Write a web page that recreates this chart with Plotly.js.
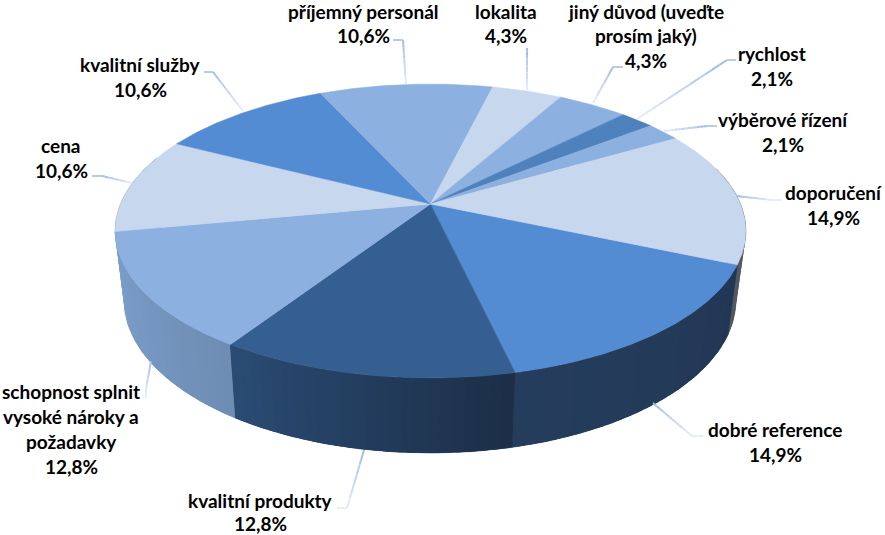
<!DOCTYPE html>
<html><head><meta charset="utf-8">
<script src="https://cdn.plot.ly/plotly-3.0.1.min.js"></script>
<style>html,body{margin:0;padding:0;background:#fff}#c{width:885px;height:535px}</style>
</head><body><div id="c"></div>
<script>
// ---- data (clockwise from the start angle)
const categories = ['dobré reference','kvalitní produkty','schopnost splnit|vysoké nároky a|požadavky','cena','kvalitní služby','příjemný personál','lokalita','jiný důvod (uveďte|prosím jaký)','rychlost','výběrové řízení','doporučení'];
const values = [14.9,12.8,12.8,10.6,10.6,10.6,4.3,4.3,2.1,2.1,14.9];
const topColors = ['#538CD3','#365F91','#8CB0E0','#C6D7EE','#538CD3','#8CB0E0','#C6D7EE','#8CB0E0','#4F81BD','#8CB0E0','#C6D7EE'];
const wallStart = ['#223754','#1C2E46','#6E8DB4','#8099BC','#2C4F78','#5F7FAA','#8099BC','#5F7FAA','#33547F','#5F7FAA','#55585F'];
const wallEnd   = ['#253D5D','#2A4C75','#7CA0CD','#8AA3C6','#2C4F78','#5F7FAA','#8099BC','#5F7FAA','#33547F','#5F7FAA','#55585F'];
// label anchor: centre x, first line centre y, line step
const labelX = [775,260,71,61,140,363,506,646,772,783,833];
const labelY = [429,500.5,391,145,64,11,11,11,53,119,192];
const lineSteps = [25.2,23,25.2,25.2,25.2,24,24,24.5,25.2,25.2,25.2];
// leader polylines [x...],[y...]
const leaderX = [[703,692,653],[337,347,364],[146,146,151],[92,102,132],[204,213,243],[393,403,406],[527,527],[623,613,593],[736,727,637],[717,707,664],[782,772,736]];
const leaderY = [[436,436,403],[508,508,450],[398,389,361],[176,176,183],[72,72,111],[40,40,84],[48,90],[67,67,103],[60,60,119],[126,126,131],[200,200,196]];
const leaderTop = [160,186,232], leaderBottom = [232,238,248];
// pie geometry
const startDeg = 23.4, persp = 0.1837;
const apex = {x:430.5,y:204,a:310,b:142};
const rim = {x:430.5,y:231,rx:315,ry:147};
const base = {x:430,y:300,rx:306,ry:153};
const visibleFrom = -15, visibleTo = 200, stripDeg = 2;

const rad = d => d*Math.PI/180;
function topPt(t){const u=Math.cos(rad(t)),v=Math.sin(rad(t)),w=1-persp*v;return [apex.x+apex.a*u/w,apex.y+apex.b*v/w];}
function basePt(t){const p=topPt(t);const a=Math.atan2((p[1]-rim.y)/rim.ry,(p[0]-rim.x)/rim.rx);return [base.x+base.rx*Math.cos(a),base.y+base.ry*Math.sin(a)];}
const hex = c => [1,3,5].map(i=>parseInt(c.substr(i,2),16));
function mix(a,b,f){const A=hex(a),B=hex(b);return 'rgb('+A.map((v,i)=>Math.round(v+(B[i]-v)*f)).join(',')+')';}
const total = values.reduce((s,v)=>s+v,0);
const spans=[];let acc=startDeg;
values.forEach(v=>{const d=v/total*360;spans.push([acc,acc+d]);acc+=d;});

const traces=[];
function poly(xs,ys,col,lw){traces.push({type:'scatter',mode:'lines',x:xs,y:ys,fill:'toself',fillcolor:col,line:{color:col,width:lw},hoverinfo:'skip',showlegend:false});}
function wallPoly(t0,t1,col,lw){
  const m=Math.max(2,Math.ceil((t1-t0)/1)),xs=[],ys=[];
  for(let j=0;j<=m;j++){const p=topPt(t0+(t1-t0)*j/m);xs.push(p[0]);ys.push(p[1]);}
  for(let j=m;j>=0;j--){const p=basePt(t0+(t1-t0)*j/m);xs.push(p[0]);ys.push(p[1]);}
  xs.push(xs[0]);ys.push(ys[0]);
  poly(xs,ys,col,lw);
}
// walls: painted back-to-front (sides first, front centre last)
const groups=[];
spans.forEach((s,i)=>{
  [[s[0],s[1]],[s[0]-360,s[1]-360]].forEach(r=>{
    const a=Math.max(r[0],visibleFrom),b=Math.min(r[1],visibleTo);
    if(b>a)groups.push({i,r,a,b});
  });
});
groups.sort((p,q)=>Math.abs((q.a+q.b)/2-90)-Math.abs((p.a+p.b)/2-90));
groups.forEach(g=>{
  wallPoly(g.a,g.b,mix(wallStart[g.i],wallEnd[g.i],.5),0.5);
  const n=Math.max(1,Math.ceil((g.b-g.a)/stripDeg));
  for(let k=0;k<n;k++){
    // each strip overlaps the next one, so no seam shows through
    const t0=g.a+(g.b-g.a)*k/n,t1=Math.min(g.b,g.a+(g.b-g.a)*(k+1.6)/n);
    const f=((g.a+(g.b-g.a)*(k+.5)/n)-g.r[0])/(g.r[1]-g.r[0]);
    wallPoly(t0,t1,mix(wallStart[g.i],wallEnd[g.i],f),0);
  }
});
// top faces
spans.forEach((s,i)=>{
  const xs=[apex.x],ys=[apex.y];
  const n=Math.ceil((s[1]-s[0])/0.5);
  for(let j=0;j<=n;j++){const p=topPt(s[0]+(s[1]-s[0])*j/n);xs.push(p[0]);ys.push(p[1]);}
  xs.push(apex.x);ys.push(apex.y);
  poly(xs,ys,topColors[i],0.5);
});
// leaders with vertical colour fade
const buckets=7;
const bx=Array.from({length:buckets},()=>[]),by=Array.from({length:buckets},()=>[]);
leaderX.forEach((lx,i)=>{
  const ly=leaderY[i],yMin=Math.min(...ly),yMax=Math.max(...ly);
  for(let s=0;s<lx.length-1;s++){
    const m=12;
    for(let j=0;j<m;j++){
      const x0=lx[s]+(lx[s+1]-lx[s])*j/m,x1=lx[s]+(lx[s+1]-lx[s])*(j+1)/m;
      const y0=ly[s]+(ly[s+1]-ly[s])*j/m,y1=ly[s]+(ly[s+1]-ly[s])*(j+1)/m;
      const f=(yMax>yMin)?((y0+y1)/2-yMin)/(yMax-yMin):0;
      const b=Math.min(buckets-1,Math.floor(f*buckets));
      bx[b].push(x0,x1,null);by[b].push(y0,y1,null);
    }
  }
});
for(let b=0;b<buckets;b++){
  const f=(b+.5)/buckets,c='rgb('+leaderTop.map((v,i)=>Math.round(v+(leaderBottom[i]-v)*f)).join(',')+')';
  traces.push({type:'scatter',mode:'lines',x:bx[b],y:by[b],connectgaps:false,line:{color:c,width:2},hoverinfo:'skip',showlegend:false});
}
// labels
const annotations=[];
categories.forEach((c,i)=>{
  const lines=c.split('|').concat([values[i].toFixed(1).replace('.',',')+'%']);
  lines.forEach((t,j)=>annotations.push({x:labelX[i],y:labelY[i]+j*lineSteps[i],xref:'x',yref:'y',text:t,showarrow:false,xanchor:'center',yanchor:'middle',borderpad:0,
    font:{family:'Lato, Carlito, sans-serif',size:19,color:'#000',weight:700}}));
});
Plotly.newPlot('c',traces,{
  width:885,height:535,margin:{l:0,r:0,t:0,b:0},paper_bgcolor:'#fff',plot_bgcolor:'#fff',showlegend:false,hovermode:false,
  xaxis:{range:[0,885],visible:false,fixedrange:true},
  yaxis:{range:[535,0],visible:false,fixedrange:true},
  annotations
},{displayModeBar:false,staticPlot:true});
</script></body></html>
